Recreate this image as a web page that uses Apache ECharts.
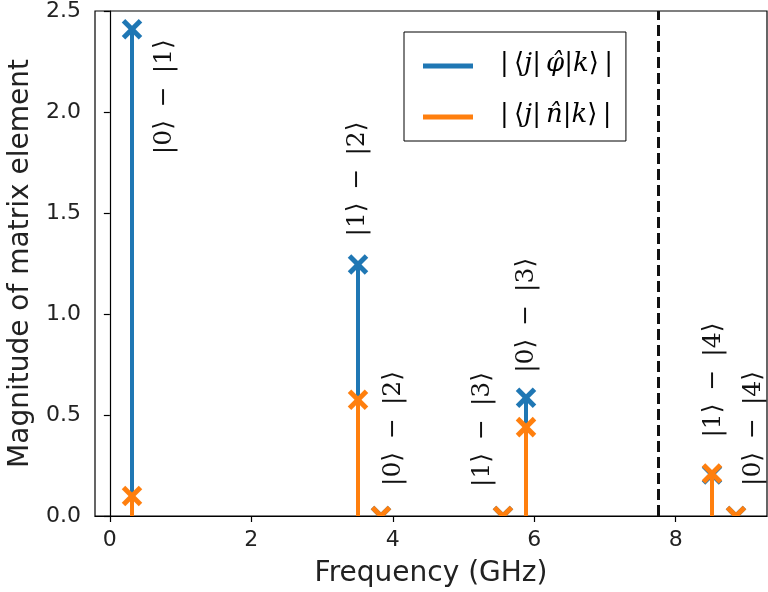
<!DOCTYPE html>
<html>
<head>
<meta charset="utf-8">
<script src="https://cdn.jsdelivr.net/npm/echarts@6/dist/echarts.min.js"></script>
<style>
  html, body { margin: 0; padding: 0; background: #fff; }
  #chart { width: 768px; height: 592px; }
</style>
</head>
<body>
<div id="chart"></div>
<script>
// transition frequencies (GHz) and matrix element magnitudes
const freqs = [0.32, 3.515, 3.83, 5.555, 5.88, 8.51, 8.85];
const phiVals = [2.41, 1.245, 0.0, 0.0, 0.585, 0.205, 0.0];
const nVals = [0.099, 0.575, 0.0, 0.0, 0.44, 0.21, 0.0];
const transitions = ['|0⟩ \u2009−\u2009 |1⟩', '|1⟩ \u2009−\u2009 |2⟩', '|0⟩ \u2009−\u2009 |2⟩', '|1⟩ \u2009−\u2009 |3⟩', '|0⟩ \u2009−\u2009 |3⟩', '|1⟩ \u2009−\u2009 |4⟩', '|0⟩ \u2009−\u2009 |4⟩'];
const cutoffFreq = 7.745;
const xTicks = [0, 2, 4, 6, 8];

const BLUE = '#1f77b4';
const ORANGE = '#ff7f0e';
const nameA = '|⟨j|φ̂|k⟩|';
const nameB = '|⟨j|n̂|k⟩|';

// pixel offsets of the rotated transition labels (bottom end of the text)
const labelOffsets = [[32, 125], [-1, -28], [13, -30], [-20, -29], [1, -25], [2, -36], [18, -30]];

function stemRender(color) {
  return function (params, api) {
    const x = api.value(0), y = api.value(1);
    const base = api.coord([x, 0]);
    const top = api.coord([x, y]);
    const cx = Math.round(top[0]);
    const s = 8.5;
    return {
      type: 'group',
      children: [
        { type: 'line', shape: { x1: cx, y1: base[1], x2: cx, y2: top[1] }, style: { stroke: color, lineWidth: 4 } },
        { type: 'line', shape: { x1: cx - s, y1: top[1] - s, x2: cx + s, y2: top[1] + s }, style: { stroke: color, lineWidth: 5 } },
        { type: 'line', shape: { x1: cx - s, y1: top[1] + s, x2: cx + s, y2: top[1] - s }, style: { stroke: color, lineWidth: 5 } }
      ]
    };
  };
}

const chart = echarts.init(document.getElementById('chart'), null, { renderer: 'canvas' });

const T = '\u2009';
chart.setOption({
  animation: false,
  textStyle: { fontFamily: 'DejaVu Sans' },
  grid: {
    left: 95, right: 1, top: 11, bottom: 76,
    outerBoundsMode: 'none', containLabel: false,
    show: true, borderColor: '#000', borderWidth: 1.2, backgroundColor: 'transparent'
  },
  legend: {
    orient: 'vertical',
    left: 404,
    top: 32,
    padding: [19, 13, 13, 19],
    itemGap: 25,
    borderColor: '#000',
    borderWidth: 1,
    itemWidth: 50,
    itemHeight: 5,
    icon: 'rect',
    data: [
      { name: nameA, itemStyle: { color: BLUE } },
      { name: nameB, itemStyle: { color: ORANGE } }
    ],
    formatter: function (n) {
      const mid = n === nameA ? 'φ̂' : 'n̂';
      return '{r||' + T + '⟨}{i|j}{r||' + T + '}{i|' + mid + '}{r||}{i|k}{r|⟩' + T + '|}';
    },
    textStyle: {
      padding: [0, 0, 0, 22],
      height: 30,
      rich: {
        r: { fontFamily: 'DejaVu Serif', fontSize: 26, color: '#000' },
        i: { fontFamily: 'DejaVu Serif', fontStyle: 'italic', fontSize: 26, color: '#000' }
      }
    }
  },
  xAxis: {
    type: 'value',
    min: -0.21,
    max: 9.29,
    name: 'Frequency (GHz)',
    nameLocation: 'middle',
    nameGap: 44,
    nameTextStyle: { fontSize: 28, color: '#222', fontFamily: 'DejaVu Sans' },
    axisLine: { show: true, onZero: false, lineStyle: { color: '#000', width: 1.2 } },
    axisTick: { show: true, length: 6, customValues: xTicks, lineStyle: { color: '#000', width: 1.2 } },
    axisLabel: { customValues: xTicks, fontSize: 22, color: '#222', margin: 13 },
    splitLine: { show: false }
  },
  yAxis: {
    type: 'value',
    min: 0,
    max: 2.5,
    interval: 0.5,
    name: 'Magnitude of matrix element',
    nameLocation: 'middle',
    nameGap: 53,
    nameTextStyle: { fontSize: 28, color: '#222', fontFamily: 'DejaVu Sans' },
    axisLine: { show: true, lineStyle: { color: '#000', width: 1.2 } },
    axisTick: { show: true, length: 6, lineStyle: { color: '#000', width: 1.2 } },
    axisLabel: { fontSize: 22, color: '#222', margin: 14, formatter: v => v.toFixed(1) },
    splitLine: { show: false }
  },
  series: [
    {
      name: nameA,
      type: 'custom',
      clip: true,
      itemStyle: { color: BLUE },
      renderItem: stemRender(BLUE),
      data: freqs.map((f, i) => [f, phiVals[i]]),
      markLine: {
        silent: true,
        symbol: 'none',
        label: { show: false },
        lineStyle: { color: '#111', width: 3, type: [11, 5] },
        data: [{ xAxis: cutoffFreq }]
      }
    },
    {
      name: nameB,
      type: 'custom',
      clip: true,
      itemStyle: { color: ORANGE },
      renderItem: stemRender(ORANGE),
      data: freqs.map((f, i) => [f, nVals[i]])
    },
    {
      name: 'labels',
      type: 'custom',
      silent: true,
      renderItem: function (params, api) {
        const i = params.dataIndex;
        const p = api.coord([api.value(0), api.value(1)]);
        const off = labelOffsets[i];
        return {
          type: 'text',
          x: p[0] + off[0],
          y: p[1] + off[1],
          rotation: Math.PI / 2,
          style: {
            text: transitions[i],
            fontFamily: 'DejaVu Serif',
            fontSize: 25,
            fill: '#111',
            align: 'left',
            verticalAlign: 'middle'
          }
        };
      },
      data: freqs.map((f, i) => [f, Math.max(phiVals[i], nVals[i])])
    }
  ]
});
</script>
</body>
</html>
